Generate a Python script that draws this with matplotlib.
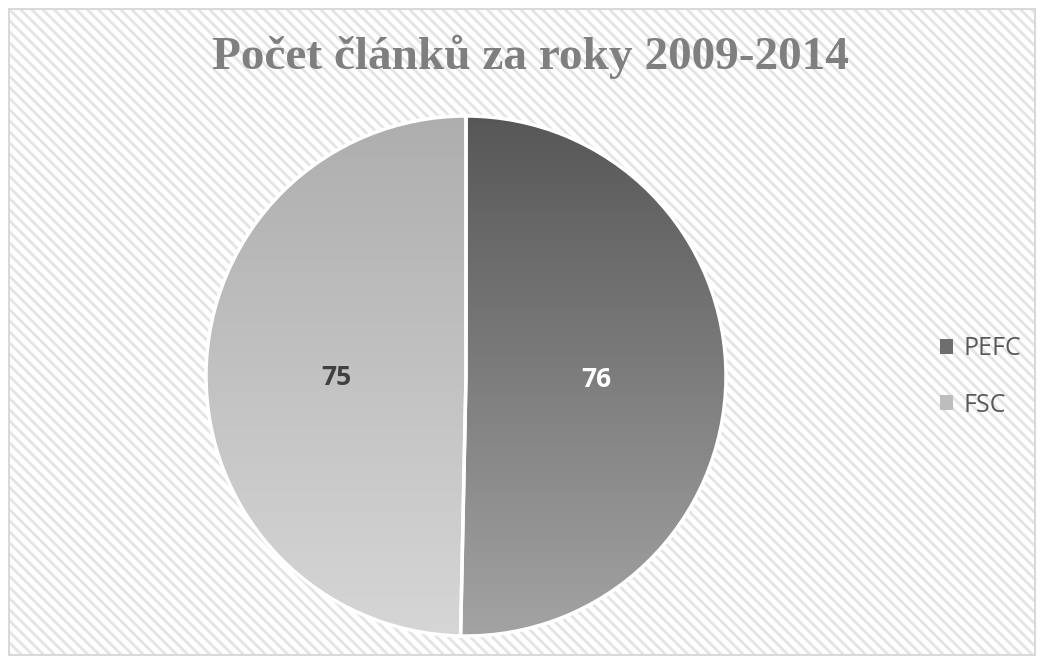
import numpy as np
import matplotlib
matplotlib.use("Agg")
import matplotlib.pyplot as plt
from matplotlib.patches import Rectangle
from matplotlib.colors import LinearSegmentedColormap

# data
labels = ["PEFC", "FSC"]
values = [76, 75]
title = "Počet článků za roky 2009-2014"

# gradient colours (top -> bottom) per slice
grad_top = ["#575757", "#aeaeae"]
grad_bottom = ["#a3a3a3", "#d6d6d6"]
flat_colors = ["#6e6e6e", "#bdbdbd"]
label_colors = ["white", "#404040"]

plt.rcParams["hatch.linewidth"] = 2.0
plt.rcParams["hatch.color"] = "#e4e4e4"

W, H = 1043, 662
fig = plt.figure(figsize=(W / 100, H / 100), dpi=100)
fig.patch.set_facecolor("white")

# hatched background with light border
bg = Rectangle((9 / W, 1 - 655 / H), 1026 / W, 646 / H, transform=fig.transFigure,
               facecolor="white", edgecolor="#e4e4e4", hatch="\\\\\\", linewidth=0, zorder=-2)
fig.patches.append(bg)
border = Rectangle((9 / W, 1 - 655 / H), 1026 / W, 646 / H, transform=fig.transFigure,
                   facecolor="none", edgecolor="#d9d9d9", linewidth=1.5, zorder=-1)
fig.patches.append(border)

# pie axes: centre (466, 376), radius 260 px
cx, cy, r = 466, 376, 260
ax = fig.add_axes([(cx - r) / W, 1 - (cy + r) / H, 2 * r / W, 2 * r / H])
ax.set_aspect("equal")
ax.axis("off")

wedges, _ = ax.pie(values, colors=flat_colors, startangle=90, counterclock=False,
                   radius=1.0, wedgeprops=dict(edgecolor="white", linewidth=2.5))
ax.set_xlim(-1, 1)
ax.set_ylim(-1, 1)

for i, w in enumerate(wedges):
    cmap = LinearSegmentedColormap.from_list(f"g{i}", [grad_bottom[i], grad_top[i]])
    grad = np.linspace(0, 1, 256).reshape(-1, 1)
    im = ax.imshow(grad, cmap=cmap, extent=(-1, 1, -1, 1), origin="lower",
                   aspect="auto", zorder=w.get_zorder() - 0.01)
    im.set_clip_path(w)
    w.set_facecolor("none")

# value labels
total = sum(values)
angle = 90.0
for i, v in enumerate(values):
    span = v / total * 360
    mid = np.deg2rad(angle - span / 2)
    ax.text(0.5 * np.cos(mid), 0.5 * np.sin(mid) - 0.01, str(v), ha="center", va="center",
            fontsize=19, fontweight="bold", color=label_colors[i], family="Open Sans")
    angle -= span

fig.text(530 / W, 1 - 57 / H, title, ha="center", va="center", fontsize=34,
         fontweight="bold", color="#7f7f7f", family="Liberation Serif")

leg = fig.legend(wedges, labels, loc="center left", bbox_to_anchor=(927 / W, 1 - 377 / H),
                 frameon=False, borderpad=0, handlelength=0.52, handleheight=0.52,
                 handletextpad=0.45, labelspacing=1.25, prop=dict(family="Open Sans", size=18))
for h, c in zip(leg.legend_handles, flat_colors):
    h.set_facecolor(c)
    h.set_edgecolor("none")
for t in leg.get_texts():
    t.set_color("#595959")

fig.savefig("out.png", dpi=100, facecolor="white")
